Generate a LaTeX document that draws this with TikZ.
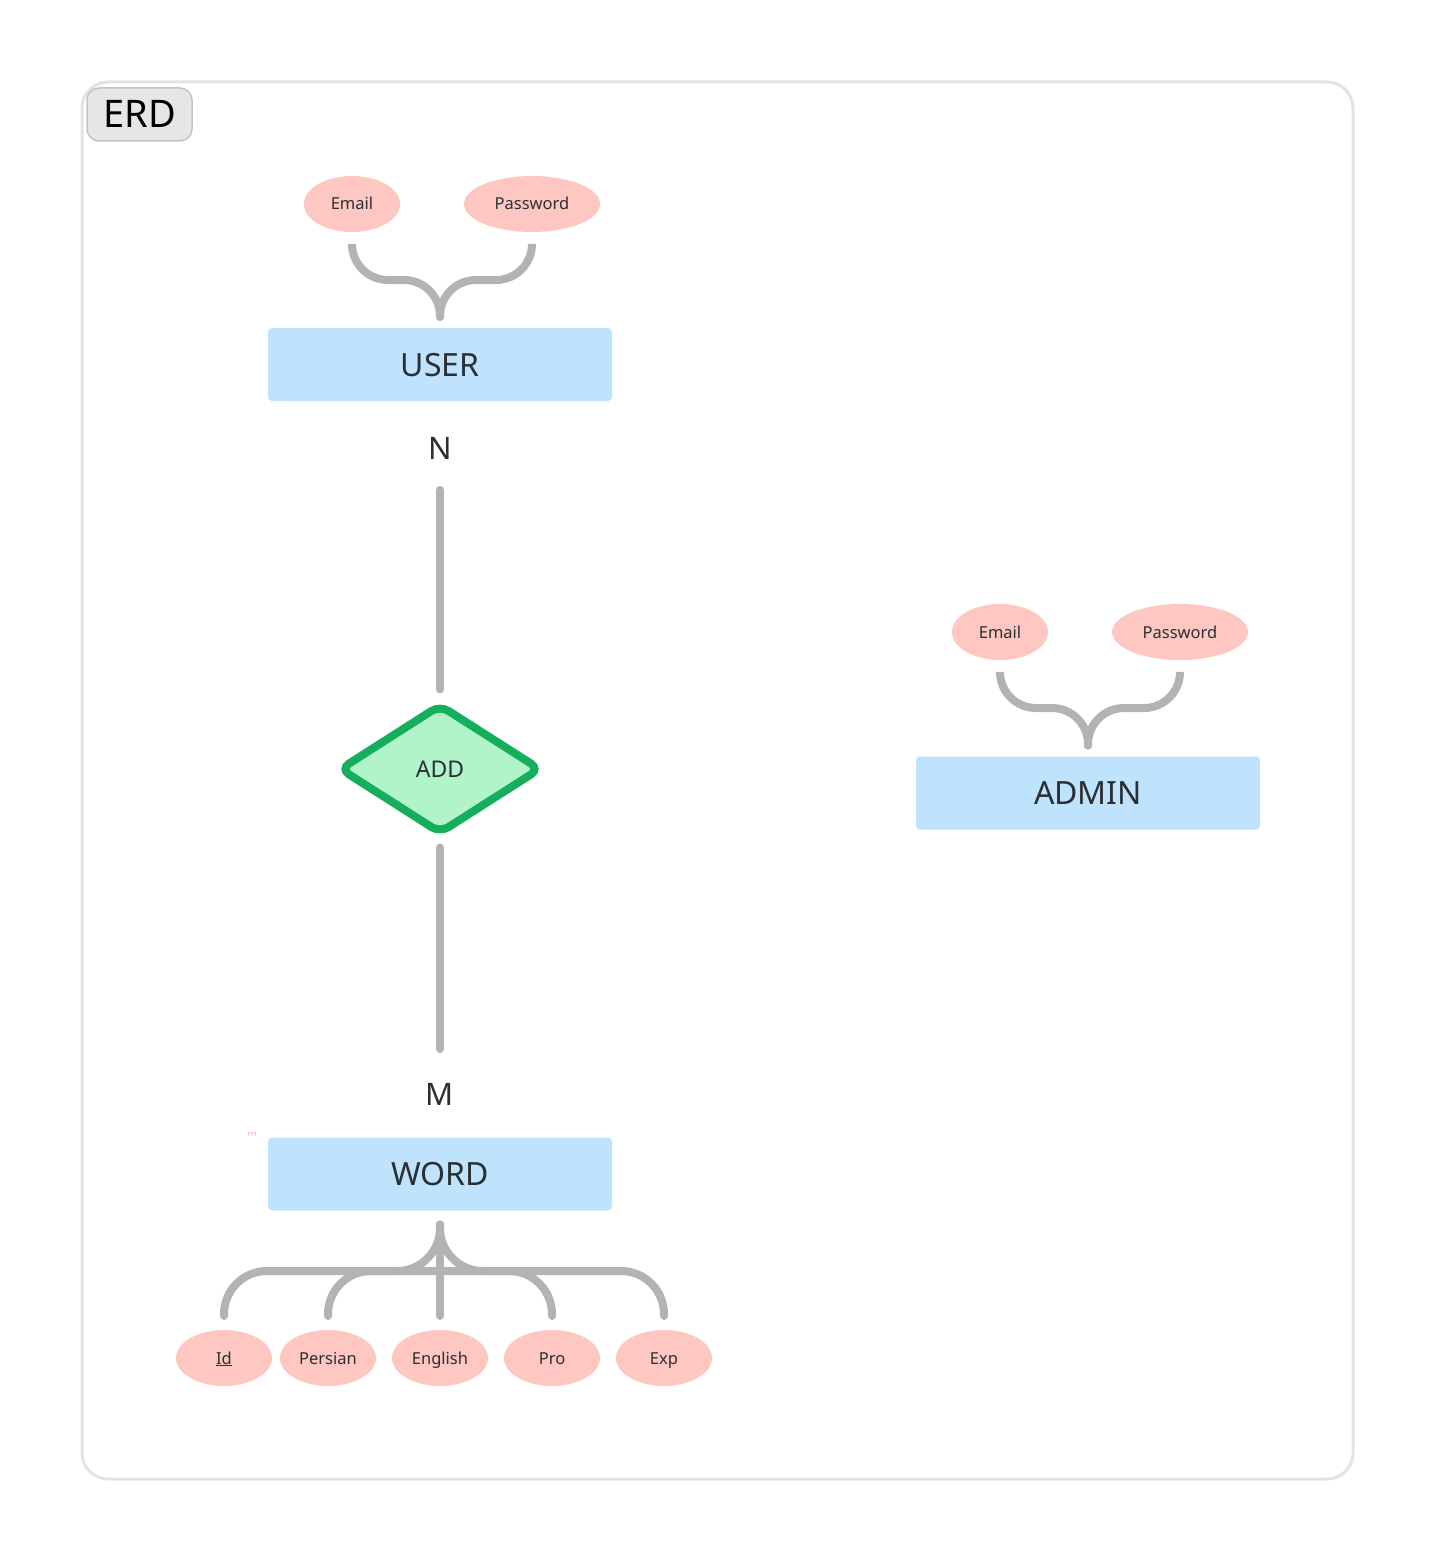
\documentclass[tikz,border=0pt]{standalone}
\usepackage{fontspec}
\setmainfont{Noto Sans}
\usepackage{tikz}
\usetikzlibrary{shapes.geometric}
\definecolor{entityblue}{HTML}{BFE3FC}
\definecolor{attrpink}{HTML}{FEC7C1}
\definecolor{relgreen}{HTML}{B1F4CA}
\definecolor{relborder}{HTML}{14AE5C}
\definecolor{edgegray}{HTML}{B3B3B3}
\definecolor{framegray}{HTML}{E3E3E3}
\definecolor{taggray}{HTML}{E6E6E6}
\definecolor{tagborder}{HTML}{C4C4C4}
\definecolor{inkdark}{HTML}{2B2F33}
\definecolor{markpink}{HTML}{F6A8A8}
\tikzstyle{frame box}=[draw=framegray, line width=3pt, shape=rectangle, rounded corners=26pt, minimum width=1271pt, minimum height=1397pt, inner sep=0pt, outer sep=0pt]
\tikzstyle{title tag}=[fill=taggray, draw=tagborder, line width=1.5pt, shape=rectangle, rounded corners=12pt, minimum width=105pt, minimum height=53pt, text=black, font=\fontsize{38}{44}\selectfont, text height=27pt, text depth=0pt, inner sep=0pt, outer sep=0pt]
\tikzstyle{entity}=[fill=entityblue, shape=rectangle, rounded corners=4pt, minimum width=344pt, minimum height=73pt, text=inkdark, font=\fontsize{32}{38}\selectfont, text height=23pt, text depth=0pt, inner sep=0pt, outer sep=0pt]
\tikzstyle{attribute}=[fill=attrpink, shape=ellipse, minimum width=96pt, minimum height=56pt, text=inkdark, font=\fontsize{16.5}{20}\selectfont, text height=12pt, text depth=0pt, inner sep=0pt, outer sep=0pt]
\tikzstyle{wide attribute}=[attribute, minimum width=136pt]
\tikzstyle{relation}=[fill=relgreen, draw=relborder, line width=8pt, shape=diamond, rounded corners=10pt, minimum width=199pt, minimum height=127pt, text=inkdark, font=\fontsize{23}{28}\selectfont, text height=16.5pt, text depth=0pt, inner sep=0pt, outer sep=0pt]
\tikzstyle{cardinality}=[text=inkdark, font=\fontsize{31}{37}\selectfont, text height=22pt, text depth=0pt, inner sep=0pt]
\tikzstyle{stray mark}=[text=markpink, font=\fontsize{14}{16}\selectfont, inner sep=0pt]
\tikzstyle{gray edge}=[-, draw=edgegray, line width=8pt, line cap=round]
\tikzstyle{brace edge}=[gray edge, rounded corners=36pt]
\tikzstyle{fan edge}=[gray edge, rounded corners=43pt]
\pgfdeclarelayer{nodelayer}
\pgfdeclarelayer{edgelayer}
\pgfsetlayers{main,nodelayer,edgelayer}

\begin{document}
\begin{tikzpicture}[x=1pt, y=-1pt]
    	\useasboundingbox (0, 0) rectangle (1436, 1562);
    	\begin{pgfonlayer}{nodelayer}
    		\node [style=frame box] (erd) at (717.5, 780.5) {};
    		\node [style=title tag] (erdtag) at (139.5, 114.5) {ERD};
    		\node [style=attribute] (uemail) at (352, 204) {Email};
    		\node [style=wide attribute] (upass) at (532, 204) {Password};
    		\node [style=entity] (user) at (440, 364.5) {USER};
    		\node [style=cardinality] (nlab) at (440, 448) {N};
    		\node [style=relation] (add) at (440, 769) {ADD};
    		\node [style=cardinality] (mlab) at (440, 1094) {M};
    		\node [style=stray mark] (tick) at (252, 1137) {\textquotesingle\textquotesingle\textquotesingle};
    		\node [style=entity] (word) at (440, 1174) {WORD};
    		\node [style=attribute] (wid) at (224, 1358) {\underline{Id}};
    		\node [style=attribute] (wpersian) at (328, 1358) {Persian};
    		\node [style=attribute] (wenglish) at (440, 1358) {English};
    		\node [style=attribute] (wpro) at (552, 1358) {Pro};
    		\node [style=attribute] (wexp) at (664, 1358) {Exp};
    		\node [style=attribute] (aemail) at (1000, 632) {Email};
    		\node [style=wide attribute] (apass) at (1180, 632) {Password};
    		\node [style=entity] (admin) at (1088, 793) {ADMIN};
    	\end{pgfonlayer}
    	\begin{pgfonlayer}{edgelayer}
    		\coordinate (ujoin) at (440, 280);
    		\coordinate (ajoin) at (1088, 708);
    		\coordinate (wjoin) at (440, 1271);
    		\draw [style=brace edge] ([yshift=-13pt]uemail.south) |- (ujoin) -- ([yshift=11pt]user.north);
    		\draw [style=brace edge] ([yshift=-13pt]upass.south) |- (ujoin) -- ([yshift=11pt]user.north);
    		\draw [style=brace edge] ([yshift=-13pt]aemail.south) |- (ajoin) -- ([yshift=11pt]admin.north);
    		\draw [style=brace edge] ([yshift=-13pt]apass.south) |- (ajoin) -- ([yshift=11pt]admin.north);
    		\draw [style=gray edge, shorten <=42pt, shorten >=16pt] (nlab.center) -- (add.north);
    		\draw [style=gray edge, shorten <=15pt, shorten >=45pt] (add.south) -- (mlab.center);
    		\draw [style=fan edge] ([yshift=-14pt]word.south) -- (wjoin) -| ([yshift=14pt]wid.north);
    		\draw [style=fan edge] (wjoin) -| ([yshift=14pt]wpersian.north);
    		\draw [style=gray edge] ([yshift=-14pt]word.south) -- ([yshift=14pt]wenglish.north);
    		\draw [style=fan edge] (wjoin) -| ([yshift=14pt]wpro.north);
    		\draw [style=fan edge] ([yshift=-14pt]word.south) -- (wjoin) -| ([yshift=14pt]wexp.north);
    	\end{pgfonlayer}
    \end{tikzpicture}
\end{document}
